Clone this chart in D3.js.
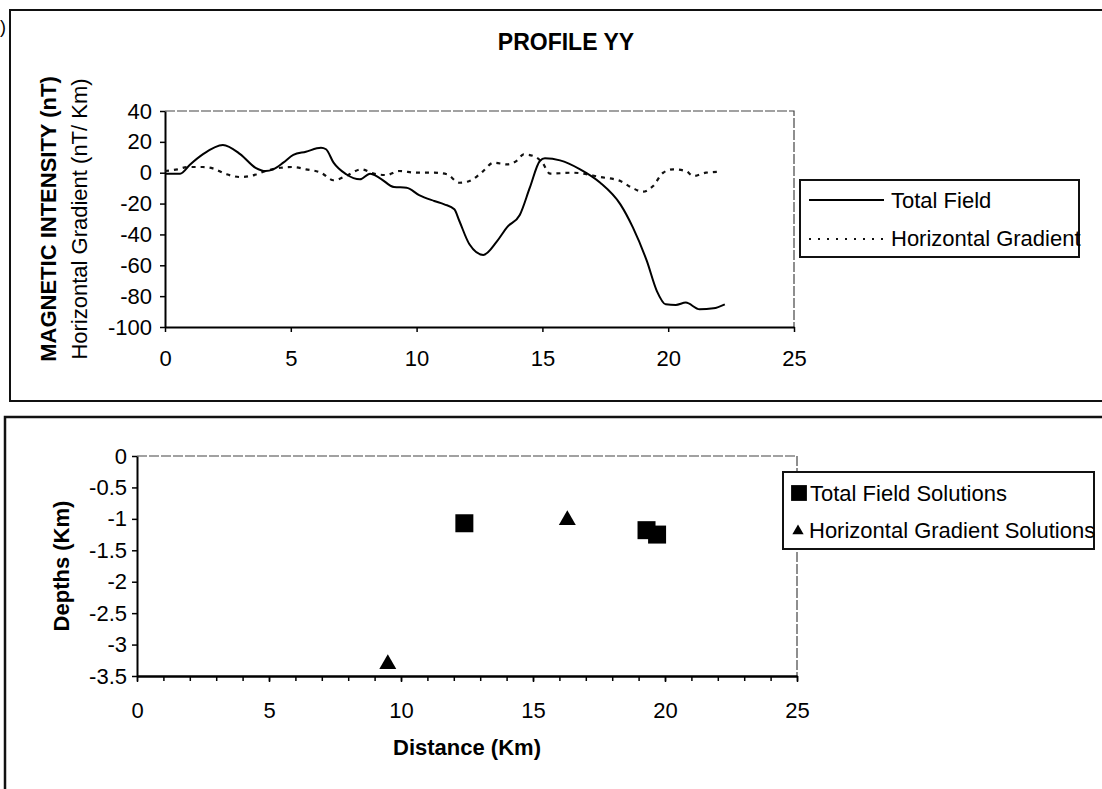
<!DOCTYPE html>
<html>
<head>
<meta charset="utf-8">
<script src="https://cdn.jsdelivr.net/npm/d3@7"></script>
<style>
  body { margin: 0; background: #fff; }
  svg { display: block; }
  .axis path, .axis line { stroke: #000; }
</style>
</head>
<body>
<svg id="chart" width="1102" height="789"></svg>
<script>
// total field profile (distance km, nT)
const totalDist = [0.0, 0.6, 1.0, 1.5, 2.3, 3.0, 3.6, 4.0, 4.3, 4.7, 5.1, 5.6, 6.2, 6.4, 6.7, 7.2, 7.75, 8.15, 8.55, 9.1, 9.6, 10.1, 10.7, 11.1, 11.5, 11.7, 12.1, 12.65, 13.2, 13.6, 14.1, 14.5, 14.9, 15.1, 15.7, 16.5, 17.3, 18.1, 18.6, 19.15, 19.55, 19.9, 20.3, 20.7, 21.25, 21.8, 22.25];
const totalField = [-0.6, -0.6, 5.4, 11.9, 18.0, 11.9, 3.2, 1.1, 2.2, 6.5, 11.5, 13.6, 16.2, 15.2, 6.5, -1.0, -4.3, -0.6, -3.6, -9.3, -9.7, -14.5, -18.3, -20.5, -23.7, -31.3, -46.4, -53.3, -44.3, -35.2, -27.4, -9.7, 7.6, 9.3, 8.0, 2.2, -6.5, -20.5, -35.6, -57.2, -76.7, -85.3, -85.7, -84.2, -88.5, -87.9, -85.3];

// horizontal gradient profile (distance km, nT/km)
const gradDist = [0.0, 0.5, 0.9, 1.5, 1.9, 2.45, 3.0, 3.5, 4.0, 4.6, 5.1, 5.6, 6.2, 6.7, 7.2, 7.8, 8.3, 8.8, 9.3, 10.0, 10.7, 11.2, 11.7, 12.1, 12.65, 13.05, 13.6, 14.0, 14.25, 14.65, 15.0, 15.3, 16.2, 17.3, 18.1, 18.6, 19.0, 19.4, 19.8, 20.2, 20.7, 21.0, 21.5, 22.05];
const gradValue = [1.1, 2.2, 3.7, 3.7, 2.8, -1.0, -2.8, -1.7, 1.1, 3.2, 3.7, 2.2, 0, -4.9, -2.1, 2.2, -0.6, -1.5, 1.1, 0, 0, -1.0, -6.5, -5.4, 1.1, 6.5, 5.4, 8.0, 11.9, 10.8, 6.5, -0.6, 0, -2.8, -5.4, -10.1, -12.3, -8.6, 0, 2.2, 1.1, -2.1, 0, 0.6];

// Euler solutions (distance km, depth km)
const tfsDist = [12.4, 19.3, 19.7];
const tfsDepth = [-1.07, -1.18, -1.25];
const hgsDist = [9.5, 16.3];
const hgsDepth = [-3.31, -1.02];

const xTicks = [0, 5, 10, 15, 20, 25];
const topYTicks = [40, 20, 0, -20, -40, -60, -80, -100];
const botYTicks = [0, -0.5, -1, -1.5, -2, -2.5, -3, -3.5];

const FONT = '"Liberation Sans", Arial, sans-serif';
const FS = 22;
const plain = d => String(d); // hyphen minus, no trailing ".0"
const svg = d3.select('#chart');

// outer frames
svg.append('rect').attr('x', 10).attr('y', 10).attr('width', 1100).attr('height', 391)
  .attr('fill', 'none').attr('stroke', '#111').attr('stroke-width', 2);
svg.append('rect').attr('x', 5).attr('y', 417).attr('width', 1105).attr('height', 380)
  .attr('fill', 'none').attr('stroke', '#111').attr('stroke-width', 2.5);
svg.append('text').attr('x', 0).attr('y', 33)
  .attr('font-family', FONT).attr('font-size', 18).text(')');

function styleAxis(g) {
  g.attr('font-size', FS).attr('font-family', FONT);
  g.select('.domain').attr('stroke-width', 2);
  g.selectAll('.tick line').attr('stroke-width', 1.5);
  g.selectAll('.tick text').attr('fill', '#000');
}

// ---------- top chart ----------
const x1 = d3.scaleLinear().domain([0, 25]).range([165, 794]);
const y1 = d3.scaleLinear().domain([-100, 40]).range([327, 111]);

svg.append('text').attr('x', 566).attr('y', 50).attr('text-anchor', 'middle')
  .attr('font-family', FONT).attr('font-weight', 'bold').attr('font-size', 23)
  .text('PROFILE YY');

// plot border (top/right)
svg.append('path')
  .attr('d', `M${x1(0)},${y1(40)}H${x1(25)}V${y1(-100)}`)
  .attr('fill', 'none').attr('stroke', '#444').attr('stroke-width', 1.2)
  .attr('stroke-dasharray', '10,2');

svg.append('g').attr('class', 'axis')
  .attr('transform', `translate(0,${y1(-100)})`)
  .call(d3.axisBottom(x1).tickValues(xTicks).tickFormat(plain).tickSize(5).tickSizeOuter(0).tickPadding(18))
  .call(styleAxis);

svg.append('g').attr('class', 'axis')
  .attr('transform', `translate(${x1(0)},0)`)
  .call(d3.axisLeft(y1).tickValues(topYTicks).tickFormat(plain).tickSize(5).tickSizeOuter(0).tickPadding(8))
  .call(styleAxis);

svg.append('text')
  .attr('transform', `translate(56,${(y1(40) + y1(-100)) / 2}) rotate(-90)`)
  .attr('text-anchor', 'middle').attr('font-family', FONT)
  .attr('font-weight', 'bold').attr('font-size', FS)
  .text('MAGNETIC INTENSITY (nT)');
svg.append('text')
  .attr('transform', `translate(87,${(y1(40) + y1(-100)) / 2}) rotate(-90)`)
  .attr('text-anchor', 'middle').attr('font-family', FONT).attr('font-size', FS)
  .text('Horizontal Gradient (nT/ Km)');

const totalData = totalDist.map((d, i) => ({ x: d, y: totalField[i] }));
const gradData = gradDist.map((d, i) => ({ x: d, y: gradValue[i] }));

const line1 = d3.line().curve(d3.curveMonotoneX).x(d => x1(d.x)).y(d => y1(d.y));

svg.append('path').datum(gradData)
  .attr('d', line1).attr('fill', 'none').attr('stroke', '#111')
  .attr('stroke-width', 2.2).attr('stroke-dasharray', '4,5');

svg.append('path').datum(totalData)
  .attr('d', line1).attr('fill', 'none').attr('stroke', '#000')
  .attr('stroke-width', 2);

// top legend
const leg1 = svg.append('g');
leg1.append('rect').attr('x', 800).attr('y', 180).attr('width', 279).attr('height', 77)
  .attr('fill', '#fff').attr('stroke', '#111').attr('stroke-width', 2);
leg1.append('line').attr('x1', 809).attr('x2', 884).attr('y1', 200).attr('y2', 200)
  .attr('stroke', '#000').attr('stroke-width', 2);
leg1.append('line').attr('x1', 809).attr('x2', 884).attr('y1', 239).attr('y2', 239)
  .attr('stroke', '#111').attr('stroke-width', 2).attr('stroke-dasharray', '2,7');
leg1.append('text').attr('x', 891).attr('y', 208).attr('font-family', FONT)
  .attr('font-size', FS).text('Total Field');
leg1.append('text').attr('x', 891).attr('y', 246).attr('font-family', FONT)
  .attr('font-size', FS).text('Horizontal Gradient');

// ---------- bottom chart ----------
const x2 = d3.scaleLinear().domain([0, 25]).range([137, 797]);
const y2 = d3.scaleLinear().domain([-3.5, 0]).range([676, 456]);

svg.append('path')
  .attr('d', `M${x2(0)},${y2(0)}H${x2(25)}V${y2(-3.5)}`)
  .attr('fill', 'none').attr('stroke', '#444').attr('stroke-width', 1.2)
  .attr('stroke-dasharray', '10,2');

// minor ticks every km
svg.append('g').attr('class', 'axis')
  .attr('transform', `translate(0,${y2(-3.5)})`)
  .call(d3.axisBottom(x2).tickValues(d3.range(0, 26, 1)).tickSize(5).tickSizeOuter(0).tickFormat(''))
  .call(styleAxis);

svg.append('g').attr('class', 'axis')
  .attr('transform', `translate(0,${y2(-3.5)})`)
  .call(d3.axisBottom(x2).tickValues(xTicks).tickFormat(plain).tickSize(6).tickSizeOuter(0).tickPadding(20))
  .call(styleAxis);

svg.append('g').attr('class', 'axis')
  .attr('transform', `translate(${x2(0)},0)`)
  .call(d3.axisLeft(y2).tickValues(botYTicks).tickFormat(plain).tickSize(5).tickSizeOuter(0).tickPadding(5))
  .call(styleAxis);

svg.append('text')
  .attr('transform', `translate(69,${(y2(0) + y2(-3.5)) / 2}) rotate(-90)`)
  .attr('text-anchor', 'middle').attr('font-family', FONT)
  .attr('font-weight', 'bold').attr('font-size', FS)
  .text('Depths (Km)');

svg.append('text')
  .attr('x', (x2(0) + x2(25)) / 2).attr('y', 755)
  .attr('text-anchor', 'middle').attr('font-family', FONT)
  .attr('font-weight', 'bold').attr('font-size', FS)
  .text('Distance (Km)');

const square = d3.symbol().type(d3.symbolSquare);
const triangle = d3.symbol().type(d3.symbolTriangle);

svg.append('g').selectAll('path')
  .data(tfsDist.map((d, i) => ({ x: d, y: tfsDepth[i] })))
  .join('path')
  .attr('transform', d => `translate(${x2(d.x)},${y2(d.y)})`)
  .attr('d', square.size(324)).attr('fill', '#000');

svg.append('g').selectAll('path')
  .data(hgsDist.map((d, i) => ({ x: d, y: hgsDepth[i] })))
  .join('path')
  .attr('transform', d => `translate(${x2(d.x)},${y2(d.y)})`)
  .attr('d', triangle.size(125)).attr('fill', '#000');

// bottom legend
const leg2 = svg.append('g');
leg2.append('rect').attr('x', 783).attr('y', 472).attr('width', 311).attr('height', 77)
  .attr('fill', '#fff').attr('stroke', '#111').attr('stroke-width', 2);
leg2.append('path').attr('transform', 'translate(799,493)')
  .attr('d', d3.symbol().type(d3.symbolSquare).size(250)()).attr('fill', '#000');
leg2.append('path').attr('transform', 'translate(798,531)')
  .attr('d', d3.symbol().type(d3.symbolTriangle).size(55)()).attr('fill', '#000');
leg2.append('text').attr('x', 810).attr('y', 501).attr('font-family', FONT)
  .attr('font-size', FS).text('Total Field Solutions');
leg2.append('text').attr('x', 809).attr('y', 538).attr('font-family', FONT)
  .attr('font-size', FS).text('Horizontal Gradient Solutions');
</script>
</body>
</html>
